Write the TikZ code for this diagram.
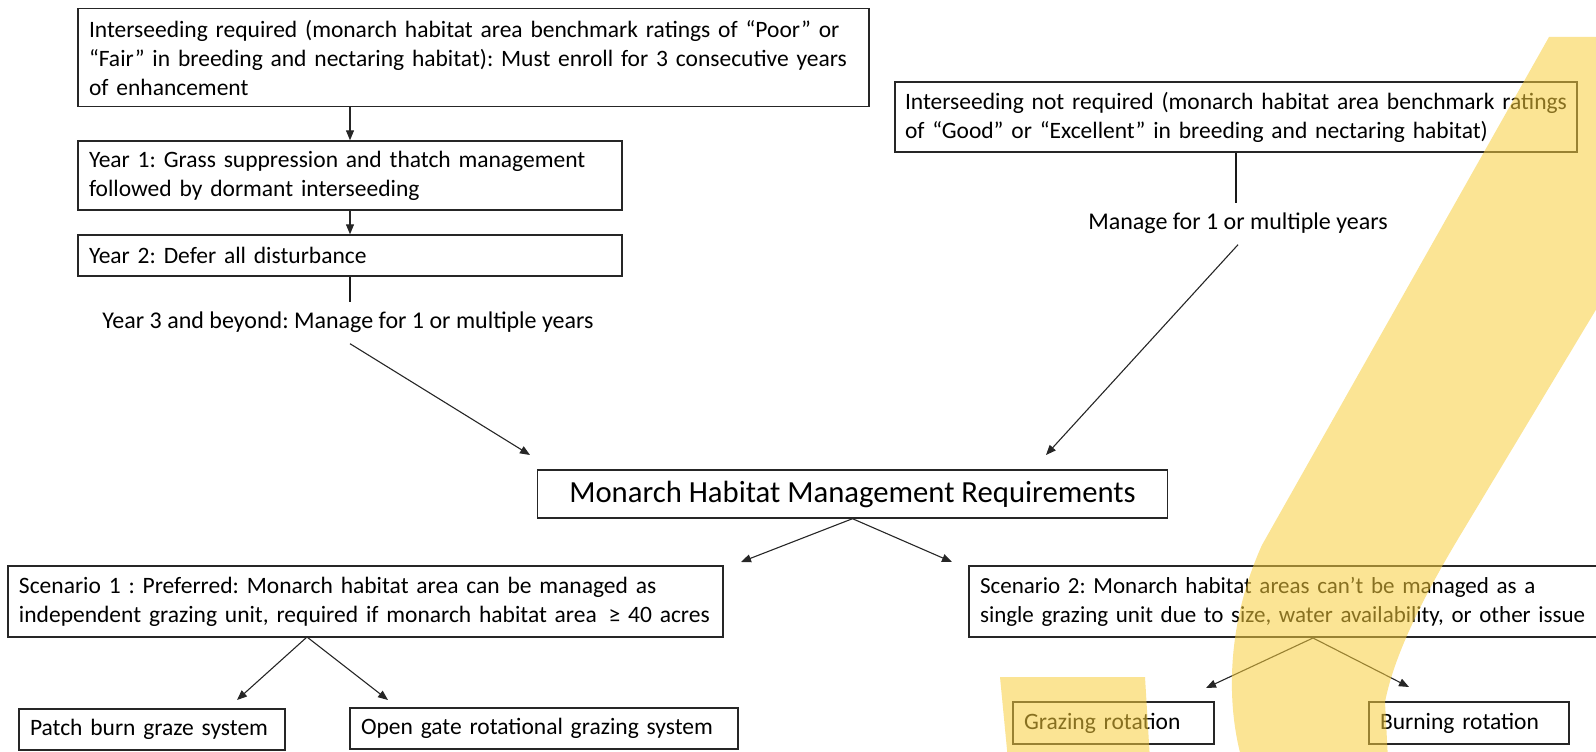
\documentclass[tikz,border=0pt]{standalone}
\usepackage{fontspec}
\setmainfont{Carlito}
\usepackage{tikz}
\usetikzlibrary{arrows.meta}

\definecolor{hilite}{RGB}{247,205,60}
\newcommand{\boxfont}{\fontsize{23.5}{29}\selectfont\frenchspacing\hyphenpenalty=10000}
\newcommand{\narrowfont}{\fontsize{23}{29}\selectfont\frenchspacing\hyphenpenalty=10000}
\newcommand{\tagfont}{\fontsize{24}{29}\selectfont\frenchspacing}
\newcommand{\titlefont}{\fontsize{30.7}{36}\selectfont}

\tikzset{
    box/.style={draw=black!85, line width=1.4pt, inner xsep=11pt, inner ysep=0pt,
        align=left, font=\boxfont},
    tag/.style={font=\tagfont, inner xsep=0pt, inner ysep=9pt,
        text height=17pt, text depth=6pt},
    arr/.style={-{Triangle[length=10pt,width=8pt]}, line width=1.1pt, black!85},
    stem/.style={line width=2.4pt, black!90},
}

\begin{document}
\begin{tikzpicture}[x=1pt, y=-1pt]
    \useasboundingbox (0,0) rectangle (1596,752);
    \clip (0,0) rectangle (1596,752);

    % Arrow ends (tips stop short of the boxes)
    \coordinate (lefttip) at (530,455);
    \coordinate (righttip) at (1046,455);
    \coordinate (mleft) at (741,562);
    \coordinate (mright) at (952,562);
    \coordinate (sonefork) at (307,637);     % fork under Scenario 1
    \coordinate (patchtip) at (237,700);
    \coordinate (gatetip) at (388,700);
    \coordinate (stwofork) at (1313,638);    % fork under Scenario 2
    \coordinate (grazetip) at (1206,688);
    \coordinate (burntip) at (1409,687);

    % Left column: interseeding required
    \node[box, text width=769pt, minimum height=98pt] (reqd) at (473.5,57.5)
        {Interseeding required (monarch habitat area benchmark ratings of “Poor” or\\
         “Fair” in breeding and nectaring habitat): Must enroll for 3 consecutive years\\
         of enhancement};
    \node[box, text width=522pt, minimum height=69pt] (yearone) at (350,175.5)
        {Year 1: Grass suppression and thatch management\\
         followed by dormant interseeding};
    \node[box, text width=522pt, minimum height=41pt] (yeartwo) at (350,255.5)
        {Year 2: Defer all disturbance};
    \node[tag] (yearthree) at (348,323)
        {Year 3 and beyond: Manage for 1 or multiple\ years};

    % Right column: interseeding not required
    \node[box, text width=662pt, inner xsep=10pt, minimum height=70pt] (notreqd) at (1236,117)
        {Interseeding not required (monarch habitat area benchmark ratings\\
         of “Good” or “Excellent”\ in breeding and nectaring habitat)};
    \node[tag] (manage) at (1238,224) {Manage for 1 or multiple years};

    % Centre box
    \node[box, align=center, font=\titlefont, minimum width=630pt, minimum height=48pt]
        (mhmr) at (852.5,494) {Monarch Habitat Management Requirements};

    % Scenarios
    \node[box, text width=693pt, minimum height=71pt] (scenone) at (365.5,601.5)
        {Scenario 1 : Preferred: Monarch habitat area can be managed as\\
         independent grazing unit, required if monarch habitat area\enspace≥ 40 acres};
    \node[box, font=\narrowfont, text width=609pt, minimum height=71pt] (scentwo) at (1284.5,601.5)
        {Scenario 2: Monarch habitat areas can’t be managed as a\\
         single grazing unit due to size, water availability, or other issue};

    % Grazing systems
    \node[box, text width=244pt, minimum height=41pt] (patch) at (152,729.5)
        {Patch burn graze system};
    \node[box, text width=366pt, minimum height=41pt] (opengate) at (544,728.5)
        {Open gate rotational grazing system};
    \node[box, text width=179pt, minimum height=42pt] (grazing) at (1113.5,723)
        {Grazing rotation};
    \node[box, text width=178pt, minimum height=42pt] (burning) at (1469,723)
        {Burning rotation};

    % Connectors
    \draw[arr] (reqd.south -| yearone.north) -- (yearone.north);
    \draw[arr] (yearone) -- (yeartwo);
    \draw[stem] (yeartwo.south) -- (yeartwo.south |- yearthree.north);
    \draw[arr] (yearthree.south -| yeartwo.south) -- (lefttip);
    \draw[stem] (notreqd.south) -- (manage.north -| notreqd.south);
    \draw[arr] (manage.south) -- (righttip);
    \draw[arr] (mhmr.south) -- (mleft);
    \draw[arr] (mhmr.south) -- (mright);
    \draw[arr] (sonefork) -- (patchtip);
    \draw[arr] (sonefork) -- (gatetip);
    \draw[arr] (stwofork) -- (grazetip);
    \draw[arr] (stwofork) -- (burntip);

    % Yellow brush strokes laid over the chart
    \fill[hilite, fill opacity=0.55]
        (1549,37) -- (1760,37) -- (1464,529)
        .. controls (1430,585) and (1395,650) .. (1385,702)
        -- (1388,760) -- (1242,760)
        .. controls (1225,700) and (1228,620) .. (1262,545)
        -- cycle;
    \fill[hilite, fill opacity=0.55]
        (1000,677) -- (1145,677) -- (1150,760) -- (1008,760) -- cycle;
\end{tikzpicture}
\end{document}
